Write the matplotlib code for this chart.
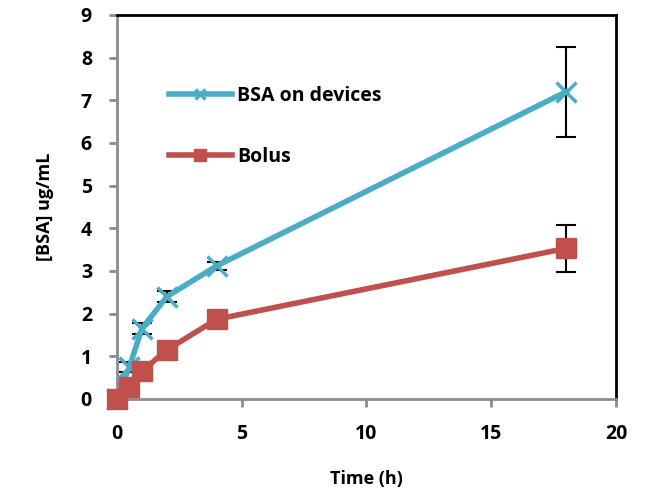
import numpy as np
import matplotlib.pyplot as plt

# data
t_dev = [0, 0.5, 1, 2, 4, 18]
bsa_dev = [0, 0.75, 1.65, 2.4, 3.12, 7.2]
err_dev = [0, 0.12, 0.12, 0.12, 0.1, 1.05]

t_bol = [0, 0.5, 1, 2, 4, 18]
bsa_bol = [0, 0.28, 0.65, 1.15, 1.87, 3.53]
err_bol = [0, 0, 0, 0, 0, 0.55]

blue = '#4BACC6'
red = '#C0504D'
gray = '#8c8c8c'

plt.rcParams['font.family'] = ['Open Sans', 'DejaVu Sans']
plt.rcParams['font.weight'] = 'bold'

fig = plt.figure(figsize=(6.57, 4.96), dpi=100)
ax = fig.add_axes([0.178, 0.1956, 0.7596, 0.7742])

ax.errorbar(t_dev, bsa_dev, yerr=err_dev, fmt='none', ecolor='black',
            elinewidth=1.5, capsize=7, capthick=1.5, zorder=2)
ax.errorbar(t_bol, bsa_bol, yerr=err_bol, fmt='none', ecolor='black',
            elinewidth=1.5, capsize=7, capthick=1.5, zorder=2)

ax.plot(t_dev, bsa_dev, color=blue, lw=4, marker='x', ms=14, mew=2.5,
        label='BSA on devices', zorder=3, clip_on=False)
ax.plot(t_bol, bsa_bol, color=red, lw=4, marker='s', ms=15,
        label='Bolus', zorder=4, clip_on=False)

ax.set_xlim(0, 20)
ax.set_ylim(0, 9)
ax.set_xticks(np.arange(0, 21, 5))
ax.set_yticks(np.arange(0, 10, 1))

for side in ['left', 'bottom']:
    ax.spines[side].set_color(gray)
    ax.spines[side].set_linewidth(2)
for side in ['top', 'right']:
    ax.spines[side].set_color('black')
    ax.spines[side].set_linewidth(2)
ax.tick_params(direction='out', length=6, width=2, color=gray,
               labelsize=14, pad=12)
for lab in ax.get_xticklabels() + ax.get_yticklabels():
    lab.set_fontweight('bold')

ax.set_xlabel('Time (h)', fontsize=13, fontweight='bold', labelpad=19)
ax.set_ylabel('[BSA] ug/mL', fontsize=13, fontweight='bold', labelpad=19)

ax.legend(loc='upper left', bbox_to_anchor=(0.07, 0.86), frameon=False,
          handlelength=3.2, labelspacing=2.1, handletextpad=0.3,
          markerscale=0.55, numpoints=1,
          prop={'weight': 'bold', 'size': 14})

fig.savefig('out.png', dpi=100)
